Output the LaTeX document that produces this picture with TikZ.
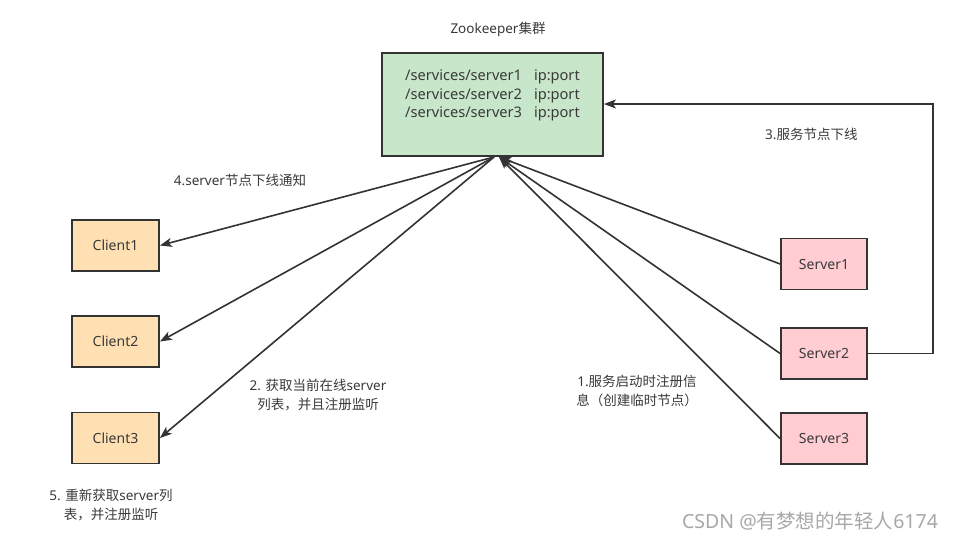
\documentclass[tikz,border=0pt]{standalone}
\usepackage{fontspec}
\setmainfont{Noto Sans}
\newfontfamily\cjk{Noto Sans CJK SC}
\usetikzlibrary{arrows.meta}
\definecolor{zkgreen}{HTML}{C8E6C9}
\definecolor{clientfill}{HTML}{FFE0B2}
\definecolor{serverfill}{HTML}{FFCDD2}
\definecolor{edge}{HTML}{333333}
\definecolor{txt}{HTML}{3A3A3A}
\definecolor{wm}{HTML}{A8A8A8}
\tikzset{
  box/.style={draw=edge, line width=1.8pt, inner sep=0pt, text=txt,
    font=\fontsize{14pt}{16pt}\selectfont},
  clientbox/.style={box, fill=clientfill, minimum width=87pt, minimum height=51pt},
  serverbox/.style={box, fill=serverfill, minimum width=86pt, minimum height=51pt},
  lbl/.style={text=txt, inner sep=0pt, align=center, font=\fontsize{13.5pt}{19pt}\selectfont},
  arr/.style={draw=edge, line width=1.6pt, -{Stealth[length=12pt,width=9pt,inset=3pt]}},
}
\begin{document}
\begin{tikzpicture}[x=1pt,y=-1pt]
\useasboundingbox (0,0) rectangle (955,541);
\fill[white] (0,0) rectangle (955,541);

% Zookeeper cluster
\node[lbl] (title) at (498,29) {Zookeeper{\cjk 集群}};
\node[box, fill=zkgreen, minimum width=221pt, minimum height=103pt] (zk) at (492.5,104.5) {};
\node[text=txt, inner sep=0pt, align=left, font=\fontsize{14.6pt}{18.5pt}\selectfont] (zktext) at (492.5,95.5)
  {/services/server1\hspace{12pt}ip:port\\/services/server2\hspace{12pt}ip:port\\/services/server3\hspace{12pt}ip:port};

% clients
\node[clientbox] (c1) at (115.5,245.5) {Client1};
\node[clientbox] (c2) at (115.5,341.5) {Client2};
\node[clientbox] (c3) at (115.5,438) {Client3};

% servers
\node[serverbox] (s1) at (824,264) {Server1};
\node[serverbox] (s2) at (824,353.5) {Server2};
\node[serverbox] (s3) at (824,438.5) {Server3};

% attachment points on the cluster box
\coordinate (zkout) at (494,157);
\coordinate (zkin) at (499,157);
\coordinate (loopc) at (933,104);

% connectors
\draw[arr] (zkout) -- (c1.east);
\draw[arr] (zkout) -- (c2.east);
\draw[arr] (zkout) -- (c3.east);
\draw[arr] (s1.west) -- (zkin);
\draw[arr] (s2.west) -- (zkin);
\draw[arr] (s3.west) -- (zkin);
\draw[arr] (s2.east) -| (loopc) -- (zk.east |- loopc);

% labels
\node[lbl, anchor=west] (l3) at (765,134) {3.{\cjk 服务节点下线}};
\node[lbl] (l4) at (240,180) {4.server{\cjk 节点下线通知}};
\node[lbl] (l2) at (318,395.5) {2. {\cjk 获取当前在线}server\\{\cjk 列表，并且注册监听}};
\node[lbl] (l1) at (637,391) {1.{\cjk 服务启动时注册信}\\{\cjk 息（创建临时节点）}};
\node[lbl] (l5) at (111,505.5) {5. {\cjk 重新获取}server{\cjk 列}\\{\cjk 表，并注册监听}};

% watermark
\node[text=wm, inner sep=0pt, font=\fontsize{19.5pt}{22pt}\selectfont] (wmark) at (810,521) {CSDN @{\cjk 有梦想的年轻人}6174};
\end{tikzpicture}
\end{document}
